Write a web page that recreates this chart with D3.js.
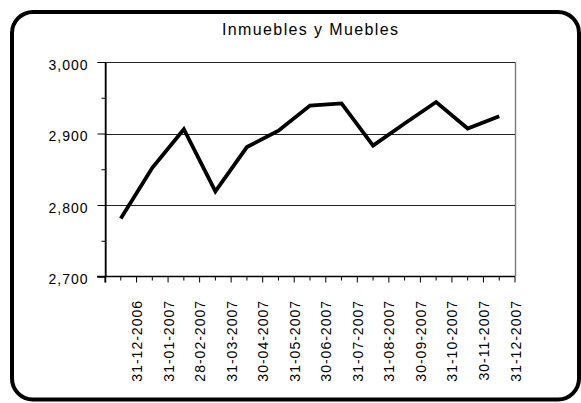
<!DOCTYPE html>
<html><head><meta charset="utf-8">
<script src="https://cdn.jsdelivr.net/npm/d3@7"></script>
<style>body{margin:0;background:#fff}svg{display:block}text{font-family:"Liberation Sans",Arial,sans-serif;fill:#000}</style>
</head><body>
<script>
const title = "Inmuebles y Muebles";
const categories = ["31-12-2006","31-01-2007","28-02-2007","31-03-2007","30-04-2007","31-05-2007","30-06-2007","31-07-2007","31-08-2007","30-09-2007","31-10-2007","30-11-2007","31-12-2007"];
const values = [2781, 2852, 2906, 2819, 2881, 2904, 2939, 2942, 2883, 2914, 2944, 2907, 2924];
const yTicks = [2700, 2800, 2900, 3000];
const yMinorTicks = [2750, 2850, 2950];

const W = 581, H = 403;
const svg = d3.select("body").append("svg").attr("width", W).attr("height", H);

// frame
svg.append("rect").attr("x", 12).attr("y", 12).attr("width", 567).attr("height", 387.5)
  .attr("rx", 21).attr("ry", 21).attr("fill", "#fff").attr("stroke", "#000").attr("stroke-width", 4);

const L = 105, R = 515, T = 62, B = 276.5;
const x = d3.scaleBand().domain(categories).range([L, R]).padding(0);
const y = d3.scaleLinear().domain([2700, 3000]).range([B, T]);

// title
svg.append("text").attr("x", 310).attr("y", 35).attr("text-anchor", "middle")
  .attr("font-size", 16).attr("textLength", 176).attr("lengthAdjust", "spacing").text(title);

// plot area border (right gray)
svg.append("line").attr("x1", R + 0.5).attr("x2", R + 0.5).attr("y1", T).attr("y2", B)
  .attr("stroke", "#808080").attr("stroke-width", 1.5);

// gridlines
svg.append("g").selectAll("line").data(yTicks.filter(d => d > 2700)).join("line")
  .attr("x1", L).attr("x2", R).attr("y1", d => Math.round(y(d)) + 0.5).attr("y2", d => Math.round(y(d)) + 0.5)
  .attr("stroke", "#222").attr("stroke-width", 1);

// y axis
const yAxis = svg.append("g").attr("transform", `translate(${L + 0.5},0)`)
  .call(d3.axisLeft(y).tickValues(yTicks).tickSize(8).tickPadding(9).tickFormat(d3.format(",")));
yAxis.select(".domain").attr("stroke", "#000");
yAxis.selectAll(".tick line").attr("stroke", "#000");
yAxis.selectAll("text").attr("font-size", 14).attr("letter-spacing", 1).attr("dy", "0.5em")
  .attr("font-family", '"Liberation Sans",Arial,sans-serif').attr("fill", "#000");
const yMinor = svg.append("g").attr("transform", `translate(${L + 0.5},0)`)
  .call(d3.axisLeft(y).tickValues(yMinorTicks).tickSize(4).tickFormat(""));
yMinor.select(".domain").remove();
yMinor.selectAll(".tick line").attr("stroke", "#000");

// x axis: major ticks at category boundaries, minor at centers
const bounds = d3.range(categories.length + 1).map(i => L + i * x.bandwidth());
svg.append("g").selectAll("line").data(bounds).join("line")
  .attr("x1", d => d).attr("x2", d => d).attr("y1", B).attr("y2", B + 6)
  .attr("stroke", "#000").attr("stroke-width", 1);
svg.append("g").selectAll("line").data(categories).join("line")
  .attr("x1", d => x(d) + x.bandwidth() / 2).attr("x2", d => x(d) + x.bandwidth() / 2)
  .attr("y1", B).attr("y2", B + 4).attr("stroke", "#000").attr("stroke-width", 1);
svg.append("line").attr("x1", L - 8).attr("x2", R).attr("y1", B).attr("y2", B).attr("stroke", "#000").attr("stroke-width", 1.5);

// x labels (rotated)
svg.append("g").selectAll("text").data(categories).join("text")
  .attr("transform", d => `translate(${x(d) + x.bandwidth() + 0.5},300) rotate(-90)`)
  .attr("text-anchor", "end").attr("dy", "0.36em").attr("font-size", 14).attr("letter-spacing", 1)
  .text(d => d);

// line
const line = d3.line().x((d, i) => x(categories[i]) + x.bandwidth() / 2).y(d => y(d));
svg.append("path").datum(values).attr("d", line).attr("fill", "none")
  .attr("stroke", "#000").attr("stroke-width", 3.8).attr("stroke-linejoin", "miter");

// top border / left axis on top
svg.append("line").attr("x1", L).attr("x2", R).attr("y1", T + 0.5).attr("y2", T + 0.5).attr("stroke", "#222").attr("stroke-width", 1);
svg.append("line").attr("x1", L + 0.5).attr("x2", L + 0.5).attr("y1", T).attr("y2", B + 6).attr("stroke", "#000").attr("stroke-width", 1.5);
</script>
</body></html>
